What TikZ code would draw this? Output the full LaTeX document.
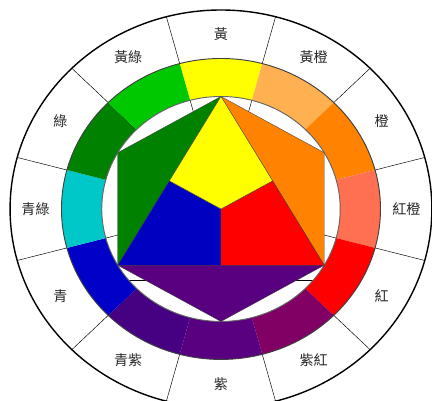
\documentclass[tikz,border=0pt]{standalone}
\usepackage{fontspec}
\usetikzlibrary{calc}
\newfontfamily\cjk{Noto Sans CJK TC}

\definecolor{cYel}{RGB}{255,255,0}
\definecolor{cYelOr}{RGB}{255,176,80}
\definecolor{cOr}{RGB}{255,130,0}
\definecolor{cRedOr}{RGB}{255,112,82}
\definecolor{cRed}{RGB}{255,0,0}
\definecolor{cRedVi}{RGB}{128,0,100}
\definecolor{cVi}{RGB}{88,0,128}
\definecolor{cBlueVi}{RGB}{70,0,130}
\definecolor{cBlue}{RGB}{0,0,200}
\definecolor{cBlueGr}{RGB}{0,200,200}
\definecolor{cGr}{RGB}{0,130,0}
\definecolor{cYelGr}{RGB}{0,200,0}

\begin{document}
\begin{tikzpicture}[x=0.0318cm, y=0.03cm,
    piece/.style={draw=black!75, line width=0.3pt},
    ringlbl/.style={font=\cjk\fontsize{12}{14}\selectfont, text=black!85}]
        \useasboundingbox (-208.5,-192) rectangle (199.1,209);

        % Outer ring
        \draw[line width=1.2pt] (0,0) circle (199);
        \foreach \a in {15,45,...,345}
            \draw[line width=0.4pt] (\a:150.5) -- (\a:199);

        % Stubs in the gaps
        \foreach \a in {75,105,195,345}
            \draw[line width=0.4pt] (\a:92) -- (\a:112.5);
        \draw[line width=0.4pt] (-87,-71) -- (-70,-71);
        \draw[line width=0.4pt] (70,-71) -- (87,-71);

        % Colour ring and labels
        \foreach \a/\c/\t in {90/cYel/黃, 60/cYelOr/黃橙, 30/cOr/橙, 0/cRedOr/紅橙,
                              -30/cRed/紅, -60/cRedVi/紫紅, -90/cVi/紫, -120/cBlueVi/青紫,
                              -150/cBlue/青, 180/cBlueGr/青綠, 150/cGr/綠, 120/cYelGr/黃綠} {
            \fill[\c] (\a-15:112.5) arc[start angle=\a-15, end angle=\a+15, radius=112.5]
                -- (\a+15:150.5) arc[start angle=\a+15, end angle=\a-15, radius=150.5] -- cycle;
            \node[ringlbl] (lab\a) at (\a:175) {\t};
        }
        \draw[black!75, line width=0.8pt] (0,0) circle (150.5);
        \draw[black!60, line width=0.8pt] (0,0) circle (112.5);

        % Hexagon corners
        \coordinate (T) at (90:112.5);
        \coordinate (UL) at (150:112.5);
        \coordinate (LL) at (210:112.5);
        \coordinate (B) at (270:112.5);
        \coordinate (LR) at (330:112.5);
        \coordinate (UR) at (30:112.5);
        \coordinate (O) at (0,0);
        \coordinate (ML) at ($(T)!0.5!(LL)$);
        \coordinate (MR) at ($(T)!0.5!(LR)$);
        \coordinate (MB) at ($(LL)!0.5!(LR)$);

        % Secondary triangles
        \filldraw[piece, fill=cGr] (T) -- (UL) -- (LL) -- cycle;
        \filldraw[piece, fill=cOr] (T) -- (UR) -- (LR) -- cycle;
        \filldraw[piece, fill=cVi] (LL) -- (B) -- (LR) -- cycle;

        % Primary triangle
        \filldraw[piece, fill=cBlue!96!black] (ML) -- (O) -- (MB) -- (LL) -- cycle;
        \filldraw[piece, fill=cRed] (O) -- (MR) -- (LR) -- (MB) -- cycle;
        \filldraw[piece, fill=cYel] (T) -- (MR) -- (O) -- (ML) -- cycle;
    \end{tikzpicture}
\end{document}
